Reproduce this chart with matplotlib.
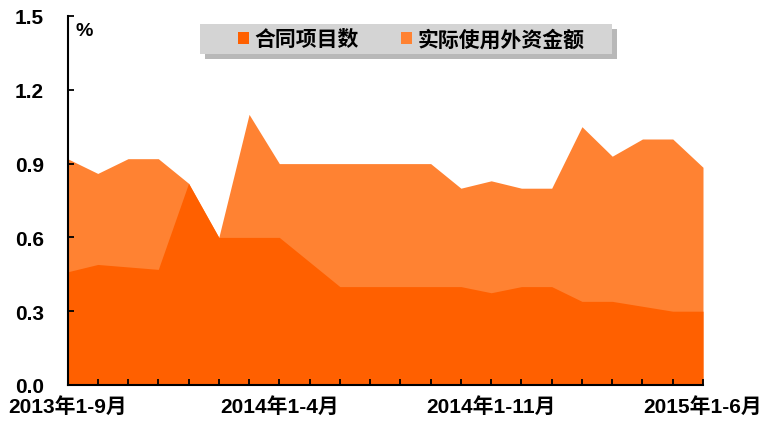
#!/usr/bin/env python3
"""
Area chart: 合同项目数 / 实际使用外资金额 (%), 2013年1-9月 .. 2015年1-6月
"""

import matplotlib
matplotlib.use('Agg')
import matplotlib.pyplot as plt
from matplotlib.patches import Rectangle, Patch
import numpy as np

# ------------------------------------------------------------------------------
# Data
# ------------------------------------------------------------------------------
periods = [
    "2013年1-9月", "2013年1-10月", "2013年1-11月", "2013年1-12月",
    "2014年1月", "2014年1-2月", "2014年1-3月", "2014年1-4月",
    "2014年1-5月", "2014年1-6月", "2014年1-7月", "2014年1-8月",
    "2014年1-9月", "2014年1-10月", "2014年1-11月", "2014年1-12月",
    "2015年1月", "2015年1-2月", "2015年1-3月", "2015年1-4月",
    "2015年1-5月", "2015年1-6月",
]
contract_projects = [0.46, 0.49, 0.48, 0.47, 0.82, 0.60, 0.60, 0.60,
                     0.50, 0.40, 0.40, 0.40, 0.40, 0.40, 0.375, 0.40,
                     0.40, 0.34, 0.34, 0.32, 0.30, 0.30]
fdi_actual = [0.92, 0.86, 0.92, 0.92, 0.82, 0.60, 1.10, 0.90,
              0.90, 0.90, 0.90, 0.90, 0.90, 0.80, 0.83, 0.80,
              0.80, 1.05, 0.93, 1.00, 1.00, 0.885]
series_names = ["合同项目数", "实际使用外资金额"]
yticks = [0.0, 0.3, 0.6, 0.9, 1.2, 1.5]
label_every = 7

DARK = '#FF6000'
LIGHT = '#FF8232'
FONT = ['Liberation Sans', 'Noto Sans CJK SC', 'DejaVu Sans']

plt.rcParams['font.family'] = FONT
plt.rcParams['font.weight'] = 'bold'

fig = plt.figure(figsize=(7.68, 4.35), dpi=100)
ax = fig.add_axes([67.5 / 768, 1 - 386 / 435, (703 - 67.5) / 768, (386 - 17) / 435])

x = np.arange(len(periods))
ax.fill_between(x, fdi_actual, color=LIGHT, linewidth=0, zorder=1)
ax.fill_between(x, contract_projects, color=DARK, linewidth=0, zorder=2)

ax.set_xlim(0, len(periods) - 1)
ax.set_ylim(0, 1.5)

ax.set_yticks(yticks)
ax.set_yticklabels([f"{v:.1f}" for v in yticks], fontsize=15, fontweight='bold')
ax.set_xticks(x)
ax.set_xticklabels([p if i % label_every == 0 else "" for i, p in enumerate(periods)],
                   fontsize=15, fontweight='bold')

ax.tick_params(axis='both', direction='in', length=4, width=1.3, color='black')
ax.tick_params(axis='x', pad=8)
ax.tick_params(axis='y', pad=17)

for s in ['top', 'right']:
    ax.spines[s].set_visible(False)
for s in ['left', 'bottom']:
    ax.spines[s].set_linewidth(1.5)
    ax.spines[s].set_zorder(5)
ax.set_axisbelow(False)

ax.text(0.012, 0.985, "%", transform=ax.transAxes, fontsize=14,
        fontweight='bold', va='top', ha='left')

# ------------------------------------------------------------------------------
# Legend box with shadow
# ------------------------------------------------------------------------------
bx, by, bw, bh = 200 / 768, 1 - 55 / 435, 412 / 768, 30 / 435
shadow = Rectangle((bx + 5 / 768, by - 5 / 435), bw, bh, transform=fig.transFigure,
                   facecolor='#9a9a9a', edgecolor='none', alpha=0.7, zorder=9)
box = Rectangle((bx, by), bw, bh, transform=fig.transFigure,
                facecolor='#D4D4D4', edgecolor='none', zorder=10)
fig.patches.extend([shadow, box])

handles = [Patch(facecolor=DARK, edgecolor='none'),
           Patch(facecolor=LIGHT, edgecolor='none')]
leg = fig.legend(handles, series_names, loc='center',
                 bbox_to_anchor=(411 / 768, by + bh / 2),
                 bbox_transform=fig.transFigure, ncol=2, frameon=False,
                 handlelength=0.55, handleheight=0.55, handletextpad=0.25,
                 columnspacing=2.0, prop={'size': 15, 'weight': 'bold'})
leg.set_zorder(11)

fig.savefig('out.png', dpi=100)
